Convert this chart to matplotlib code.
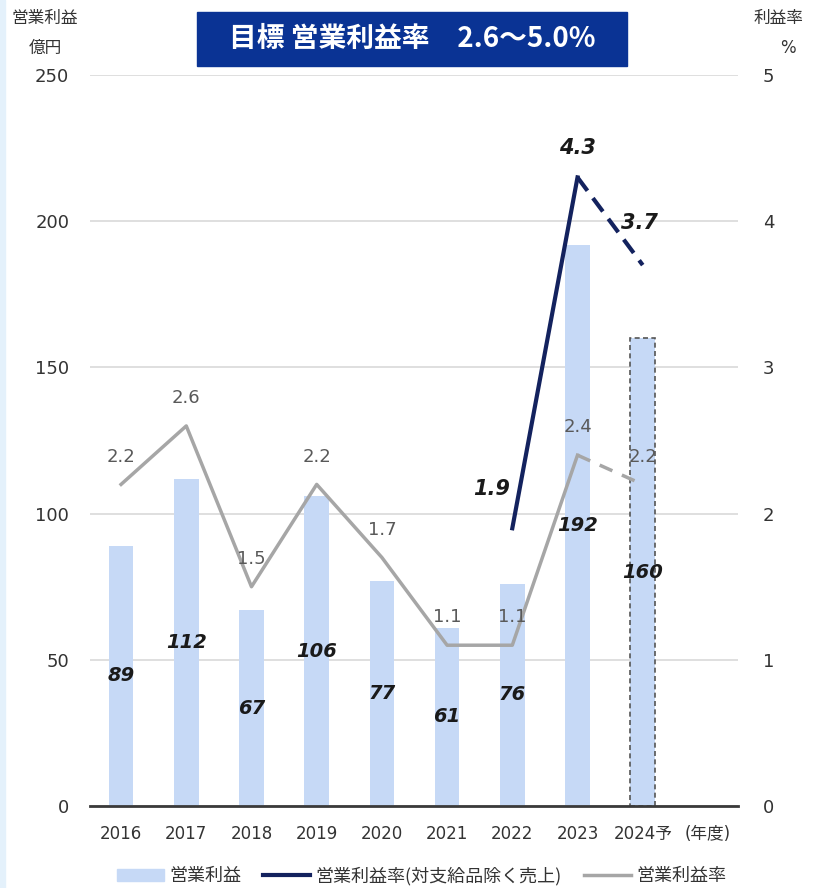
import matplotlib.pyplot as plt
from matplotlib.patches import Rectangle, Patch
from matplotlib.lines import Line2D
import numpy as np

plt.rcParams['font.family'] = ['DejaVu Sans', 'Noto Sans CJK JP']

# fiscal years, last one is the forecast
years = ['2016', '2017', '2018', '2019', '2020', '2021', '2022', '2023', '2024予']
profit = [89, 112, 67, 106, 77, 61, 76, 192, 160]          # 億円
margin = [2.2, 2.6, 1.5, 2.2, 1.7, 1.1, 1.1, 2.4, 2.2]      # %
adj_years = [6, 7, 8]                                        # 2022, 2023, 2024予
adj_margin = [1.9, 4.3, 3.7]                                 # % (対支給品除く売上)

barColor = '#c6d9f6'
navy = '#13225e'
grey = '#a6a6a6'
jp = ['Noto Sans CJK JP', 'DejaVu Sans']

fig = plt.figure(figsize=(8.19, 8.88), dpi=100)
fig.patch.set_facecolor('white')
fig.patches.append(Rectangle((0, 0), 5 / 819, 1, transform=fig.transFigure,
                             color='#e4f1fb', zorder=0))

ax = fig.add_axes([0.110, 0.0923, 0.791, 0.8232])
ax2 = ax.twinx()

ind = np.arange(len(years))
width = 0.38
ax.bar(ind[:-1], profit[:-1], width, color=barColor, zorder=2)
ax.bar(ind[-1], profit[-1], width, color=barColor, edgecolor='#555555',
       linestyle=(0, (3, 2)), linewidth=1.2, zorder=2)

for i, v in enumerate(profit):
    ax.text(ind[i], v / 2, str(v), ha='center', va='center', fontsize=14,
            fontweight='bold', style='italic', color='#1a1a1a', zorder=5)

ax.set_ylim(0, 250)
ax.set_xlim(-0.475, 9.46)
ax.set_yticks(range(0, 251, 50))
ax.grid(axis='y', color='#d9d9d9', linewidth=1.2, zorder=0)
ax.set_axisbelow(True)
ax.set_xticks(list(ind) + [9])
ax.set_xticklabels(years + ['(年度)'])
ax.tick_params(axis='x', length=0, pad=14, labelsize=12, colors='#333333')
ax.tick_params(axis='y', length=0, pad=15, labelsize=13, colors='#333333')
for s in ['top', 'left', 'right']:
    ax.spines[s].set_visible(False)
ax.spines['bottom'].set_color('#3a3a3a')
ax.spines['bottom'].set_linewidth(2)
ax.spines['bottom'].set_zorder(6)

# 営業利益率 (grey), forecast part dashed
ax2.plot(ind[:-1], margin[:-1], color=grey, linewidth=2.5, zorder=3)
ax2.plot(ind[-2:], margin[-2:], color=grey, linewidth=2.5, linestyle=(0, (4, 3)), zorder=3)
for i, v in enumerate(margin):
    ax2.text(ind[i], v + 0.19, f'{v:.1f}', ha='center', va='center', fontsize=13,
             color='#595959', zorder=5)

# 営業利益率(対支給品除く売上) (navy)
ax2.plot(adj_years[:2], adj_margin[:2], color=navy, linewidth=3, zorder=4)
ax2.plot(adj_years[1:], adj_margin[1:], color=navy, linewidth=3,
         linestyle=(0, (4, 2.2)), zorder=4)
lbl = dict(ha='center', va='center', fontsize=15, fontweight='bold', style='italic',
           color='#1a1a1a', zorder=5)
ax2.text(adj_years[0] - 0.32, adj_margin[0] + 0.27, f'{adj_margin[0]:.1f}', **lbl)
ax2.text(adj_years[1], adj_margin[1] + 0.2, f'{adj_margin[1]:.1f}', **lbl)
ax2.text(adj_years[2] - 0.05, adj_margin[2] + 0.29, f'{adj_margin[2]:.1f}', **lbl)

ax2.set_ylim(0, 5)
ax2.set_yticks(range(0, 6))
ax2.tick_params(axis='y', length=0, pad=18, labelsize=13, colors='#333333')
for s in ['top', 'left', 'right', 'bottom']:
    ax2.spines[s].set_visible(False)

# axis captions
fig.text(45 / 819, 1 - 18 / 888, '営業利益', ha='center', va='center', fontsize=12,
         family=jp, color='#333333')
fig.text(45 / 819, 1 - 48 / 888, '億円', ha='center', va='center', fontsize=12,
         family=jp, color='#333333')
fig.text(778 / 819, 1 - 18 / 888, '利益率', ha='center', va='center', fontsize=12,
         family=jp, color='#333333')
fig.text(788 / 819, 1 - 48 / 888, '%', ha='center', va='center', fontsize=12,
         color='#333333')

# target banner
fig.patches.append(Rectangle((197 / 819, 1 - 66 / 888), 430 / 819, 54 / 888,
                             transform=fig.transFigure, color='#0a3394', zorder=1))
fig.text(412 / 819, 1 - 39 / 888, '目標 営業利益率　2.6〜5.0%', ha='center', va='center',
         fontsize=20, fontweight='bold', family=jp, color='white', zorder=2)

handles = [Patch(color=barColor),
           Line2D([], [], color=navy, linewidth=3),
           Line2D([], [], color=grey, linewidth=2.5)]
labels = ['営業利益', '営業利益率(対支給品除く売上)', '営業利益率']
fig.legend(handles, labels, loc='center', bbox_to_anchor=(0.515, 1 - 876 / 888), ncol=3,
           frameon=False, prop={'family': jp, 'size': 13}, handlelength=2.6,
           columnspacing=1.2, handletextpad=0.3, labelcolor='#333333')

fig.savefig('out.png', dpi=100)
